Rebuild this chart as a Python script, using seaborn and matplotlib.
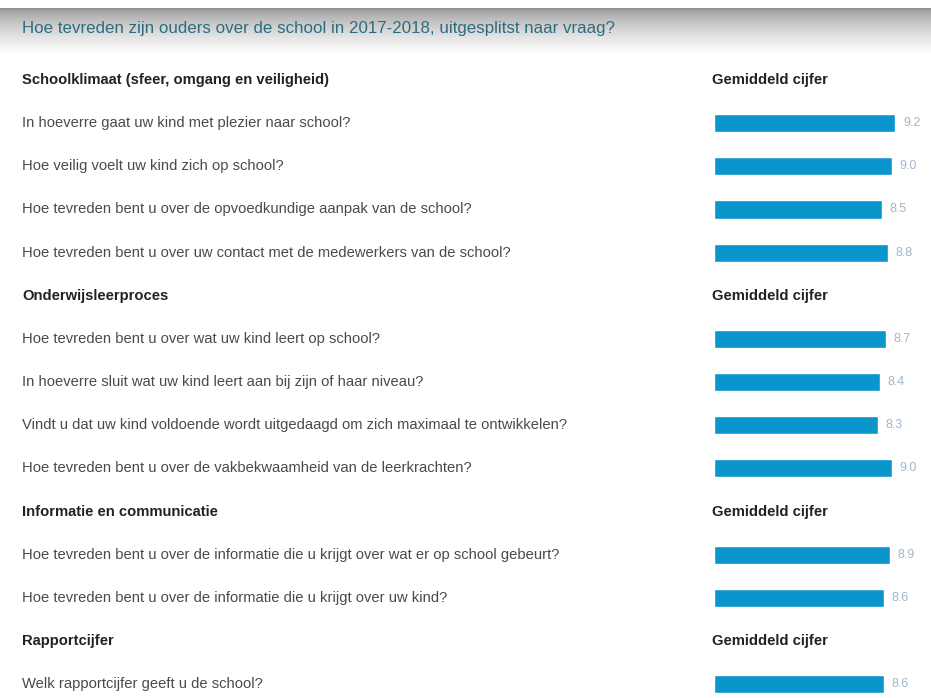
import numpy as np
import pandas as pd
import seaborn as sns
import matplotlib.pyplot as plt
from matplotlib.transforms import blended_transform_factory

TITLE = 'Hoe tevreden zijn ouders over de school in 2017-2018, uitgesplitst naar vraag?'
COL_HEADER = 'Gemiddeld cijfer'

sections = [
    'Schoolklimaat (sfeer, omgang en veiligheid)',
    'Onderwijsleerproces',
    'Informatie en communicatie',
    'Rapportcijfer',
]
questions = [
    ['In hoeverre gaat uw kind met plezier naar school?',
     'Hoe veilig voelt uw kind zich op school?',
     'Hoe tevreden bent u over de opvoedkundige aanpak van de school?',
     'Hoe tevreden bent u over uw contact met de medewerkers van de school?'],
    ['Hoe tevreden bent u over wat uw kind leert op school?',
     'In hoeverre sluit wat uw kind leert aan bij zijn of haar niveau?',
     'Vindt u dat uw kind voldoende wordt uitgedaagd om zich maximaal te ontwikkelen?',
     'Hoe tevreden bent u over de vakbekwaamheid van de leerkrachten?'],
    ['Hoe tevreden bent u over de informatie die u krijgt over wat er op school gebeurt?',
     'Hoe tevreden bent u over de informatie die u krijgt over uw kind?'],
    ['Welk rapportcijfer geeft u de school?'],
]
scores = [
    [9.2, 9.0, 8.5, 8.8],
    [8.7, 8.4, 8.3, 9.0],
    [8.9, 8.6],
    [8.6],
]

# row order: section header followed by its questions
order = []
rows = []
for sec, qs, vals in zip(sections, questions, scores):
    order.append(sec)
    for q, v in zip(qs, vals):
        order.append(q)
        rows.append({'vraag': q, 'cijfer': v})
df = pd.DataFrame(rows)

sns.set_style('white')
plt.rcParams['font.family'] = ['Liberation Sans', 'DejaVu Sans']

fig = plt.figure(figsize=(9.31, 6.98), dpi=100)

# grey gradient band behind the title
band = fig.add_axes([0, 1 - 54 / 698, 1, 46 / 698])
t = np.linspace(0, 1, 64).reshape(-1, 1)
grey = 0.55 + 0.45 * t ** 0.6
band.imshow(np.dstack([grey, grey, grey]), aspect='auto',
            extent=[0, 1, 0, 1])
band.axis('off')

ax = fig.add_axes([714 / 931, 0, 217 / 931, (698 - 58.4) / 698])
sns.barplot(data=df, x='cijfer', y='vraag', order=order, color='#0a96cc',
            saturation=1, width=0.42, ax=ax, errorbar=None)
ax.set_xlim(0, 11.0)
ax.set_ylim(len(order) - 1 + 0.32, -0.5)
ax.axis('off')

for i, v in enumerate(df['cijfer']):
    pos = order.index(df['vraag'][i])
    ax.text(v + 0.38, pos, f'{v:.1f}', va='center', ha='left',
            fontsize=9, color='#9fb6cc')

tr = blended_transform_factory(fig.transFigure, ax.transData)
for pos, label in enumerate(order):
    if label in sections:
        ax.text(22 / 931, pos, label, transform=tr, va='center', ha='left',
                fontsize=10.6, fontweight='bold', color='#222222')
        ax.text(712 / 931, pos, COL_HEADER, transform=tr, va='center',
                ha='left', fontsize=10.6, fontweight='bold', color='#222222')
    else:
        ax.text(22 / 931, pos, label, transform=tr, va='center', ha='left',
                fontsize=10.6, color='#4a4a4a')

fig.text(22 / 931, 1 - 28 / 698, TITLE, va='center', ha='left',
         fontsize=12.2, color='#2b6d80')

plt.savefig('out.png', dpi=100)
